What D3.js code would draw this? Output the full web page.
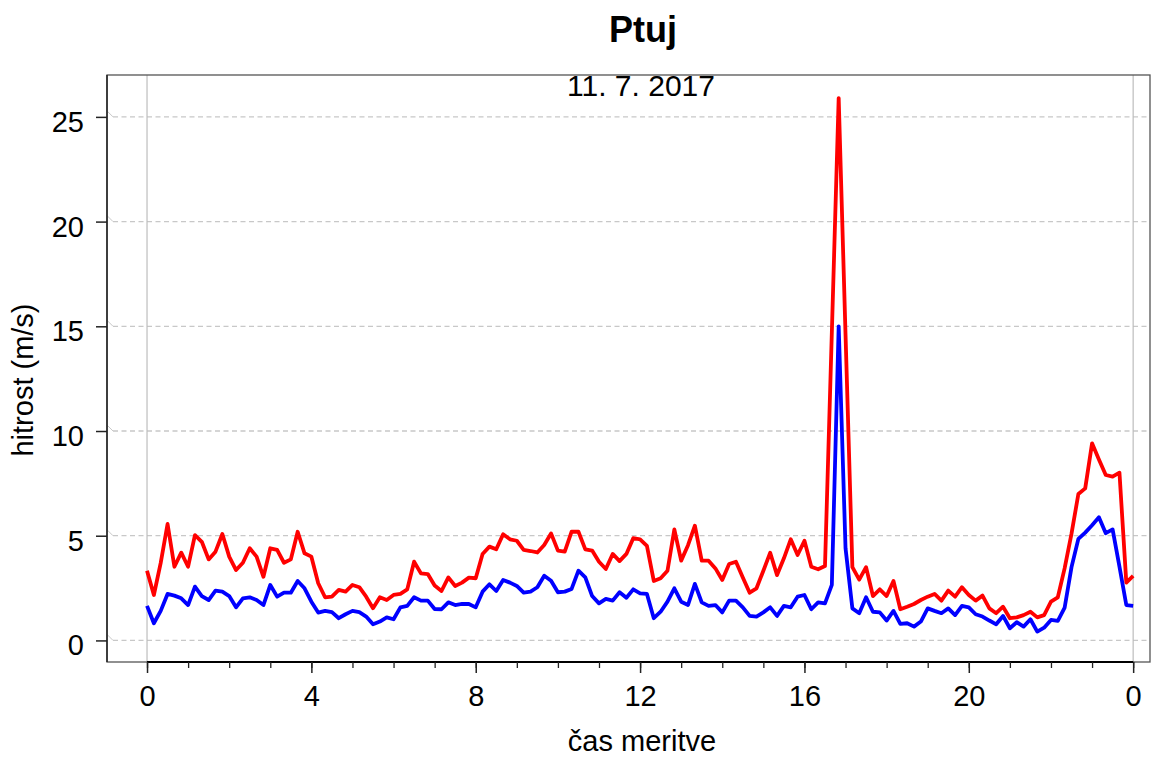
<!DOCTYPE html>
<html>
<head>
<meta charset="utf-8">
<script src="https://cdn.jsdelivr.net/npm/d3@7"></script>
<style>
  body { margin: 0; background: #fff; }
  text { font-family: "Liberation Sans", Arial, sans-serif; fill: #000; }
</style>
</head>
<body>
<svg id="chart" width="1162" height="758"></svg>
<script>
// 10-minutni podatki, 11. 7. 2017 (145 meritev od 0:00 do 24:00)
const stepMinutes = 10;

// sunki vetra (rdeca)
const gust = [
  3.33, 2.17, 3.7, 5.56, 3.52, 4.19, 3.52, 5.03, 4.71, 3.87,
  4.24, 5.08, 4.0, 3.36, 3.71, 4.4, 4.0, 3.04, 4.4, 4.32,
  3.71, 3.87, 5.19, 4.16, 4.0, 2.73, 2.06, 2.09, 2.41, 2.33,
  2.65, 2.54, 2.09, 1.54, 2.06, 1.93, 2.17, 2.22, 2.44, 3.76,
  3.2, 3.17, 2.62, 2.36, 3.01, 2.6, 2.76, 3.0, 2.97, 4.13,
  4.48, 4.35, 5.07, 4.83, 4.76, 4.32, 4.27, 4.2, 4.56, 5.11,
  4.29, 4.24, 5.19, 5.19, 4.35, 4.29, 3.76, 3.41, 4.13, 3.79,
  4.13, 4.88, 4.83, 4.52, 2.84, 2.97, 3.33, 5.3, 3.81, 4.55,
  5.48, 3.81, 3.81, 3.44, 2.89, 3.65, 3.76, 3.01, 2.28, 2.49,
  3.33, 4.19, 3.12, 3.92, 4.83, 4.08, 4.76, 3.52, 3.4, 3.55,
  14.7, 25.9, 14.6, 3.5, 2.9, 3.5, 2.12, 2.44, 2.12, 2.84,
  1.49, 1.61, 1.74, 1.93, 2.09, 2.22, 1.9, 2.38, 2.09, 2.54,
  2.17, 1.9, 2.14, 1.53, 1.3, 1.61, 1.06, 1.1, 1.21, 1.37,
  1.1, 1.21, 1.85, 2.06, 3.45, 5.1, 6.99, 7.26, 9.41, 8.64,
  7.9, 7.82, 8.01, 2.76, 3.08
];

// povprecna hitrost (modra)
const mean = [
  1.65, 0.82, 1.41, 2.22, 2.14, 2.01, 1.69, 2.57, 2.12, 1.93,
  2.38, 2.33, 2.12, 1.58, 2.01, 2.06, 1.93, 1.69, 2.65, 2.09,
  2.28, 2.28, 2.84, 2.49, 1.85, 1.33, 1.41, 1.35, 1.06, 1.25,
  1.41, 1.35, 1.14, 0.77, 0.9, 1.1, 1.01, 1.58, 1.65, 2.06,
  1.9, 1.9, 1.5, 1.49, 1.82, 1.69, 1.74, 1.74, 1.58, 2.33,
  2.68, 2.36, 2.89, 2.76, 2.6, 2.28, 2.33, 2.54, 3.09, 2.85,
  2.3, 2.33, 2.46, 3.33, 3.01, 2.12, 1.77, 1.98, 1.9, 2.3,
  2.04, 2.44, 2.25, 2.22, 1.06, 1.37, 1.85, 2.49, 1.85, 1.69,
  2.7, 1.82, 1.65, 1.69, 1.34, 1.9, 1.9, 1.58, 1.17, 1.14,
  1.34, 1.58, 1.17, 1.65, 1.58, 2.09, 2.17, 1.49, 1.82, 1.77,
  2.65, 15.0, 4.4, 1.53, 1.3, 2.06, 1.37, 1.34, 0.95, 1.41,
  0.79, 0.82, 0.66, 0.9, 1.53, 1.41, 1.3, 1.53, 1.21, 1.65,
  1.58, 1.25, 1.14, 0.95, 0.77, 1.17, 0.58, 0.87, 0.66, 1.01,
  0.42, 0.61, 0.98, 0.93, 1.57, 3.5, 4.85, 5.15, 5.5, 5.88,
  5.12, 5.3, 3.52, 1.69, 1.65
];

const xTickHours = [0, 4, 8, 12, 16, 20, 24];
const xTickLabels = ["0", "4", "8", "12", "16", "20", "0"];
const yTicks = [0, 5, 10, 15, 20, 25];

const svg = d3.select("#chart");
const box = { left: 107, right: 1150, top: 75, bottom: 662 };

const hours = gust.map((d, i) => i * stepMinutes / 60);

const x = d3.scaleLinear()
  .domain([-0.974, 24.41])
  .range([box.left, box.right]);

const y = d3.scaleLinear()
  .domain([-1.03, 27.0])
  .range([box.bottom, box.top]);

// mreza
const grid = svg.append("g");
yTicks.forEach(v => {
  grid.append("path")
    .attr("d", `M${box.left},${y(v) - 6}L${box.left + 6},${y(v)}`)
    .attr("stroke", "#c8c8c8").attr("fill", "none");
  grid.append("line")
    .attr("x1", box.left + 6).attr("x2", box.right)
    .attr("y1", y(v)).attr("y2", y(v))
    .attr("stroke", "#c8c8c8")
    .attr("stroke-width", 1.3)
    .attr("stroke-dasharray", "5,3.5");
});
[0, 24].forEach(h => {
  grid.append("line")
    .attr("x1", x(h)).attr("x2", x(h))
    .attr("y1", box.top).attr("y2", box.bottom)
    .attr("stroke", "#bdbdbd").attr("stroke-width", 1.2);
});

// okvir
svg.append("rect")
  .attr("x", box.left).attr("y", box.top)
  .attr("width", box.right - box.left).attr("height", box.bottom - box.top)
  .attr("fill", "none").attr("stroke", "#555").attr("stroke-width", 1.3);

// crti
const line = series => d3.line()
  .x((d, i) => x(hours[i]))
  .y(d => y(d))(series);

svg.append("path")
  .attr("d", line(gust))
  .attr("fill", "none").attr("stroke", "#ff0000")
  .attr("stroke-width", 3.8).attr("stroke-linejoin", "round");

svg.append("path")
  .attr("d", line(mean))
  .attr("fill", "none").attr("stroke", "#0000ff")
  .attr("stroke-width", 3.8).attr("stroke-linejoin", "round");

// os y
const yaxis = d3.axisLeft(y)
  .tickValues(yTicks)
  .tickSize(11)
  .tickPadding(12)
  .tickSizeOuter(0);

const yg = svg.append("g")
  .attr("transform", `translate(${box.left},0)`)
  .call(yaxis);
yg.select(".domain").attr("d", `M0,${box.top}V${box.bottom}`)
  .attr("stroke", "#222").attr("stroke-width", 1.5);
yg.selectAll(".tick line").attr("stroke", "#222").attr("stroke-width", 1.5);
yg.selectAll(".tick text")
  .attr("font-size", 29).attr("font-family", "Liberation Sans, Arial, sans-serif")
  .attr("dy", "0.5em");

// os x: male oznake vsako uro
const xminor = d3.axisBottom(x)
  .tickValues(d3.range(0, 25))
  .tickSize(6)
  .tickFormat("")
  .tickSizeOuter(0);
const xmg = svg.append("g")
  .attr("transform", `translate(0,${box.bottom})`)
  .call(xminor);
xmg.select(".domain").attr("d", `M${x(0)},0H${x(24)}`)
  .attr("stroke", "#000").attr("stroke-width", 1.8);
xmg.selectAll(".tick line").attr("stroke", "#222").attr("stroke-width", 1.3);

const xaxis = d3.axisBottom(x)
  .tickValues(xTickHours)
  .tickSize(11)
  .tickPadding(12)
  .tickFormat((d, i) => xTickLabels[i])
  .tickSizeOuter(0);
const xg = svg.append("g")
  .attr("transform", `translate(0,${box.bottom})`)
  .call(xaxis);
xg.select(".domain").remove();
xg.selectAll(".tick line").attr("stroke", "#222").attr("stroke-width", 1.5);
xg.selectAll(".tick text")
  .attr("font-size", 29).attr("font-family", "Liberation Sans, Arial, sans-serif");

// napisi
svg.append("text")
  .attr("x", 643).attr("y", 42)
  .attr("text-anchor", "middle")
  .attr("font-size", 36).attr("font-weight", "bold")
  .text("Ptuj");

svg.append("text")
  .attr("x", 641).attr("y", 96)
  .attr("text-anchor", "middle")
  .attr("font-size", 30)
  .text("11. 7. 2017");

svg.append("text")
  .attr("x", 642).attr("y", 751)
  .attr("text-anchor", "middle")
  .attr("font-size", 29)
  .text("čas meritve");

svg.append("text")
  .attr("transform", "translate(33,380) rotate(-90)")
  .attr("text-anchor", "middle")
  .attr("font-size", 29)
  .text("hitrost (m/s)");
</script>
</body>
</html>
